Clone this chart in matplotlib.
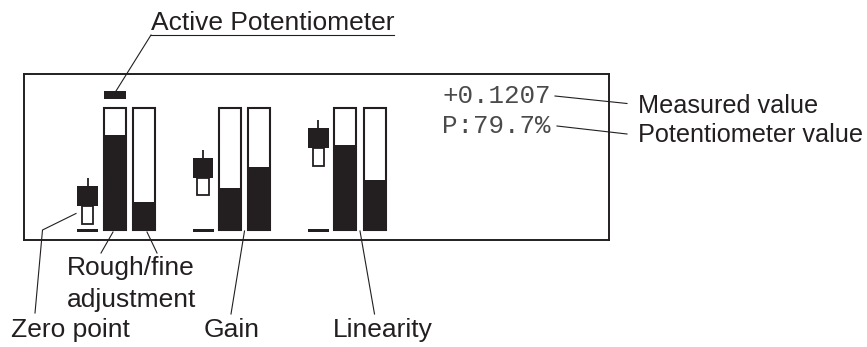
import matplotlib
matplotlib.use('Agg')
import matplotlib.pyplot as plt

# values shown on the display (percent of bar height)
groups = ['Zero point', 'Gain', 'Linearity']
rough = [78, 35, 70]
fine = [23, 52, 41]
zero_level = [20, 43, 67]
active = 0
measured_text = '+0.1207'
pot_text = 'P:79.7%'

dark = '#231f20'
W, H = 867, 347

fig = plt.figure(figsize=(W / 100, H / 100), dpi=100)

# main axes in pixel coordinates for labels and leader lines
ax = fig.add_axes([0, 0, 1, 1])
ax.set_xlim(0, W)
ax.set_ylim(H, 0)
ax.axis('off')

# LCD box
box_l, box_r, box_t, box_b = 24, 609, 74, 240
lcd = fig.add_axes([box_l / W, (H - box_b) / H, (box_r - box_l) / W, (box_b - box_t) / H])
lcd.set_facecolor('none')
lcd.set_xlim(box_l, box_r)
lcd.set_ylim(-7.9, 127.8)
lcd.set_xticks([])
lcd.set_yticks([])
for s in lcd.spines.values():
    s.set_linewidth(1.4)
    s.set_color(dark)

x0, step = 114.7, 115.3
rough_x = [x0 + step * i for i in range(len(groups))]
fine_x = [x + 29.3 for x in rough_x]
cand_x = [x - 27 for x in rough_x]

# bar frames and fills
lcd.bar(rough_x + fine_x, [100] * 6, width=22, bottom=0, facecolor='white',
        edgecolor=dark, linewidth=1.5)
lcd.bar(rough_x, rough, width=23.5, color=dark, linewidth=0)
lcd.bar(fine_x, fine, width=23.5, color=dark, linewidth=0)

# zero point indicators
for cx, lvl in zip(cand_x, zero_level):
    lcd.bar(cx, 14.5, bottom=lvl - 14.5, width=11.5, facecolor='white',
            edgecolor=dark, linewidth=1.3)
    lcd.bar(cx, 16.4, bottom=lvl, width=20.7, color=dark, linewidth=0)
    lcd.vlines(cx, lvl + 16.4, lvl + 23, color=dark, linewidth=1.3)
    lcd.bar(cx, 2.6, bottom=-1.6, width=21, color=dark, linewidth=0)

# active potentiometer marker
lcd.bar(rough_x[active], 6.5, bottom=107.4, width=22, color=dark, linewidth=0)

# display text
mono = dict(family='Liberation Mono', fontsize=18.6, color='#4a4a4a', va='baseline')
ax.text(442, 102.7, measured_text, **mono)
ax.text(442, 133.3, pot_text, **mono)

# labels
lab = dict(family='Liberation Sans', fontsize=19, color=dark, va='baseline')
right = dict(lab, fontsize=18.2)
ax.text(151, 30, 'Active Potentiometer', **lab)
ax.text(638, 113.3, 'Measured value', **right)
ax.text(638, 141.7, 'Potentiometer value', **right)
ax.text(67, 275, 'Rough/fine', **lab)
ax.text(67, 306.7, 'adjustment', **lab)
ax.text(11, 337, groups[0], **lab)
ax.text(204, 337, groups[1], **lab)
ax.text(333, 337, groups[2], **lab)

# leader lines
lw = 0.8
ax.plot([151, 394], [35, 35], color=dark, lw=lw)
ax.plot([151, 116], [35, 91], color=dark, lw=lw)
ax.plot([555, 627], [96, 103.5], color=dark, lw=lw)
ax.plot([557, 627], [126, 134], color=dark, lw=lw)
ax.plot([35, 42.5, 76], [313, 230, 213.5], color=dark, lw=lw)
ax.plot([101, 113], [253, 232], color=dark, lw=lw)
ax.plot([157, 147], [253, 232], color=dark, lw=lw)
ax.plot([231, 244.5], [314, 231], color=dark, lw=lw)
ax.plot([374.5, 360], [314, 231], color=dark, lw=lw)

fig.savefig('out.png', dpi=100, facecolor='white')
